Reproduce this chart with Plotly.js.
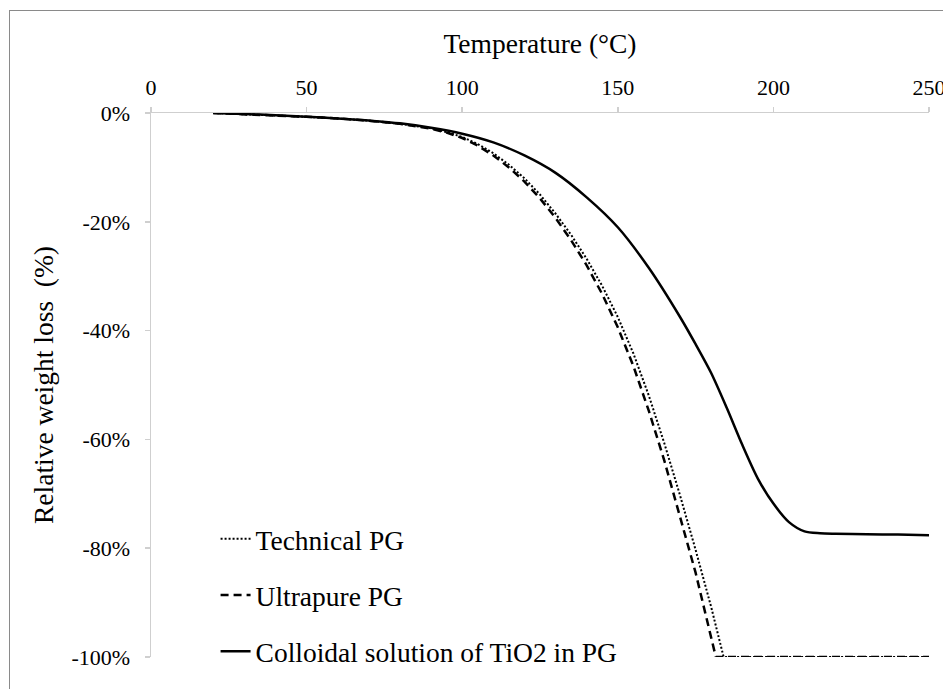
<!DOCTYPE html>
<html>
<head>
<meta charset="utf-8">
<script src="https://cdn.plot.ly/plotly-3.0.1.min.js"></script>
<style>
  html, body { margin: 0; padding: 0; background: #ffffff; overflow: hidden; }
  #wrap { position: relative; width: 943px; height: 689px; }
  #chart { position: absolute; left: 0; top: 0; width: 943px; height: 689px; }
  #frame { position: absolute; left: 9px; top: 10px; width: 1000px; height: 800px;
           border: 1.5px solid #8a8a8a; pointer-events: none; }
</style>
</head>
<body>
<div id="wrap">
  <div id="chart"></div>
  <div id="frame"></div>
</div>
<script>
// ---- data ----
const seriesNames = ["Technical PG", "Ultrapure PG", "Colloidal solution of TiO2 in PG"];

const technicalT = [20, 30, 40, 50, 60, 70, 80, 90, 95, 100, 105, 110, 115, 120, 125, 130, 135, 140, 145, 150, 155, 160, 165, 170, 175, 180, 184, 200, 250];
const technicalW = [0, -0.2, -0.4, -0.7, -1.0, -1.4, -2.0, -2.8, -3.5, -4.4, -5.7, -7.4, -9.5, -12.0, -15.0, -18.5, -22.4, -26.8, -31.8, -37.5, -44.2, -52.0, -60.8, -70.3, -80.3, -90.8, -100, -100, -100];

const ultrapureT = [20, 30, 40, 50, 60, 70, 80, 90, 95, 100, 105, 110, 115, 120, 125, 130, 135, 140, 145, 150, 155, 160, 165, 170, 175, 181.5, 200, 250];
const ultrapureW = [0, -0.2, -0.4, -0.7, -1.0, -1.4, -2.0, -2.9, -3.6, -4.6, -6.0, -7.8, -10.0, -12.6, -15.7, -19.3, -23.4, -28.0, -33.3, -39.4, -46.5, -54.8, -64.0, -74.0, -84.5, -100, -100, -100];

const colloidT = [20, 30, 40, 50, 60, 70, 80, 90, 100, 110, 120, 130, 140, 150, 160, 170, 175, 180, 185, 190, 195, 200, 205, 210, 215, 220, 230, 240, 250];
const colloidW = [0, -0.2, -0.4, -0.7, -1.0, -1.4, -1.9, -2.7, -3.8, -5.4, -7.8, -11.0, -15.5, -21.0, -28.5, -37.5, -42.5, -47.8, -54.2, -61.0, -67.2, -71.8, -75.2, -76.9, -77.25, -77.35, -77.45, -77.5, -77.6];

const xTickVals = [0, 50, 100, 150, 200, 250];
const yTickVals = [0, -20, -40, -60, -80, -100];
const yTickText = ["0%", "-20%", "-40%", "-60%", "-80%", "-100%"];

const xTitle = "Temperature (°C)";
const yTitle = "Relative weight loss\u00a0 (%)";

// ---- chart ----
const FONT = "'Liberation Serif', Tinos, 'Times New Roman', 'DejaVu Serif', serif";
const AXIS_GRAY = '#cfcfcf';

const traces = [
  { x: technicalT, y: technicalW, name: seriesNames[0], mode: 'lines', legendgroup: 'a',
    line: { color: '#000000', width: 2, dash: '2px,2px' } },
  { x: ultrapureT, y: ultrapureW, name: seriesNames[1], mode: 'lines', legendgroup: 'b',
    line: { color: '#000000', width: 2.5, dash: '8px,5px' } },
  { x: colloidT, y: colloidW, name: seriesNames[2], mode: 'lines', legendgroup: 'c',
    line: { color: '#000000', width: 2.5, shape: 'spline', smoothing: 0.8 } }
];

const layout = {
  width: 943, height: 689,
  margin: { l: 151, r: 14, t: 113, b: 32, autoexpand: false },
  paper_bgcolor: 'rgba(0,0,0,0)',
  plot_bgcolor: 'rgba(0,0,0,0)',
  font: { family: FONT, color: '#000000', size: 22 },
  showlegend: true,
  legend: {
    x: 0.083, xanchor: 'left', y: 0.262, yanchor: 'top',
    font: { family: FONT, size: 27.5, color: '#000000' },
    bgcolor: 'rgba(0,0,0,0)', tracegroupgap: 17.5, itemwidth: 30
  },
  xaxis: {
    side: 'top', range: [0, 250], tickvals: xTickVals,
    showline: true, linecolor: AXIS_GRAY, linewidth: 1.5,
    ticks: 'outside', ticklen: 5, tickcolor: AXIS_GRAY, tickwidth: 1.5,
    showgrid: false, zeroline: false, ticklabelstandoff: 3,
    ticklabeloverflow: 'allow',
    tickfont: { family: FONT, size: 22, color: '#000000' },
    title: { text: xTitle, font: { family: FONT, size: 27.5, color: '#000000' }, standoff: 13 }
  },
  yaxis: {
    range: [-100, 0], tickvals: yTickVals, ticktext: yTickText,
    showline: true, linecolor: AXIS_GRAY, linewidth: 1.5,
    ticks: 'outside', ticklen: 5, tickcolor: AXIS_GRAY, tickwidth: 1.5,
    showgrid: false, zeroline: false, ticklabelstandoff: 10,
    tickfont: { family: FONT, size: 22, color: '#000000' },
    title: { text: yTitle, font: { family: FONT, size: 27.5, color: '#000000' }, standoff: 10 }
  }
};

Plotly.newPlot('chart', traces, layout, { displayModeBar: false, staticPlot: true });
</script>
</body>
</html>
